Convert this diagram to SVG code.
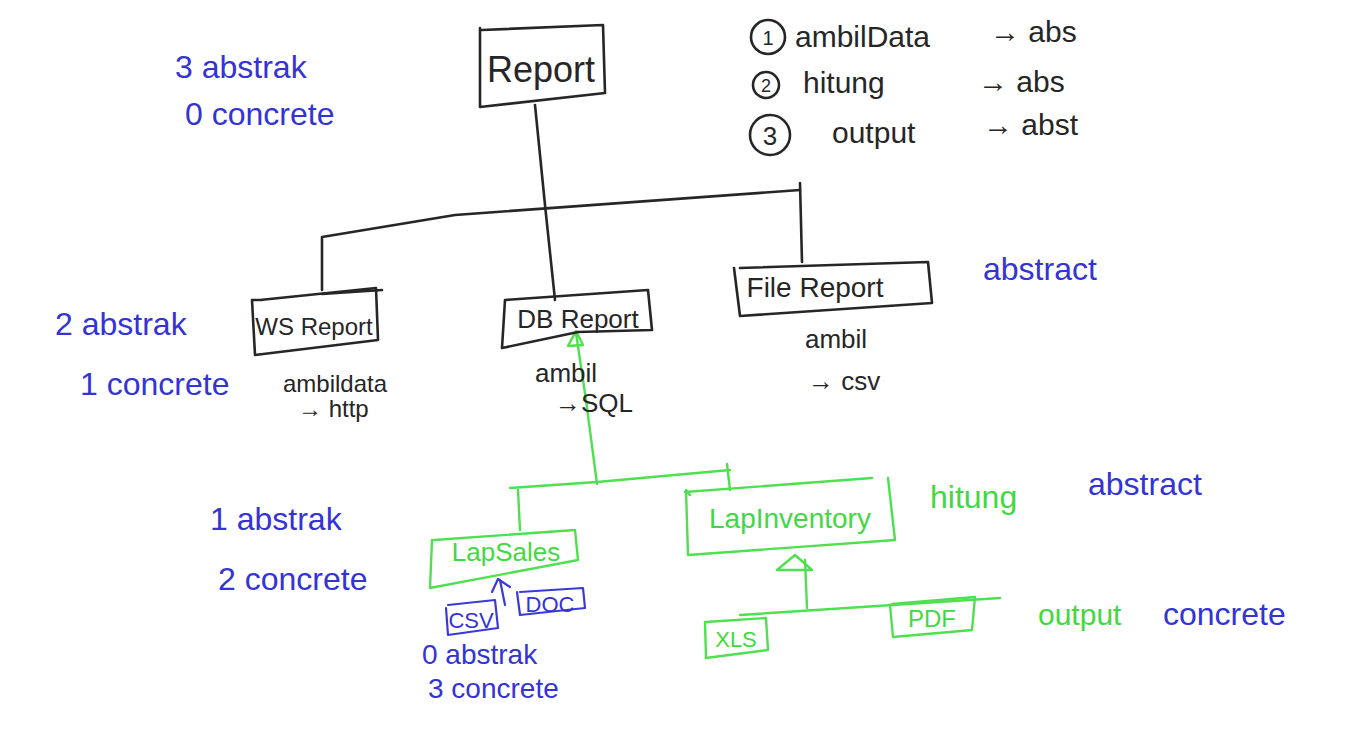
<svg xmlns="http://www.w3.org/2000/svg" width="1366" height="746" viewBox="0 0 1366 746">
<style>
.k{fill:none;stroke:#262626;stroke-width:2.6;stroke-linecap:round;stroke-linejoin:round}
.g{fill:none;stroke:#4fe04f;stroke-width:2.4;stroke-linecap:round;stroke-linejoin:round}
.b{fill:none;stroke:#3a3ad8;stroke-width:2.2;stroke-linecap:round;stroke-linejoin:round}
text{font-family:"Liberation Sans","DejaVu Sans",sans-serif}
.tk{fill:#262626}
.tg{fill:#42d842}
.tb{fill:#3333d6}
</style>
<rect width="1366" height="746" fill="#ffffff"/>
<g id="connectors">
<path class="k" d="M535 105 L545 205 L555 300"/>
<path class="k" d="M322 290 L322 237 L455 215 L800 190"/>
<path class="k" d="M800 183 L802 262"/>
<path class="g" d="M597 484 L586 400 L576 333"/>
<path class="g" d="M568 346 L576 331 L583 345 Z"/>
<path class="g" d="M510 488 L597 482 L730 470"/>
<path class="g" d="M727 464 L730 490"/>
<path class="g" d="M518 490 L520 530"/>
<path class="g" d="M685 492 L872 478"/>
<path class="g" d="M740 615 L1000 598"/>
<path class="g" d="M807 608 L805 560"/>
<path class="g" d="M777 570 L795 555 L812 570 Z"/>
<path class="b" d="M505 605 L500 580"/>
<path class="b" d="M492 592 L498 579 L510 587"/>
</g>
<g id="report">
<path class="k" d="M480 28 L480 107 L605 93 L603 25 L482 30"/>
<text x="541" y="82" font-size="36" text-anchor="middle" class="tk">Report</text>
</g>
<g id="legend">
<circle cx="768" cy="37" r="17" class="k"/>
<text x="768" y="45" font-size="20" text-anchor="middle" class="tk">1</text>
<text x="795" y="47" font-size="30" class="tk">ambilData</text>
<text x="990" y="42" font-size="30" class="tk">→ abs</text>
<circle cx="766" cy="85" r="13" class="k"/>
<text x="766" y="92" font-size="18" text-anchor="middle" class="tk">2</text>
<text x="803" y="93" font-size="30" class="tk">hitung</text>
<text x="978" y="92" font-size="30" class="tk">→ abs</text>
<circle cx="770" cy="135" r="20" class="k"/>
<text x="770" y="145" font-size="26" text-anchor="middle" class="tk">3</text>
<text x="832" y="143" font-size="30" class="tk">output</text>
<text x="983" y="135" font-size="30" class="tk">→ abst</text>
</g>
<g id="count-top">
<text x="175" y="78" font-size="32" class="tb">3 abstrak</text>
<text x="185" y="125" font-size="32" class="tb">0 concrete</text>
</g>
<g id="ws-report">
<path class="k" d="M262 300 L252 300 L255 355 L378 340 L376 288 L260 300"/>
<path class="k" d="M322 294 L382 290"/>
<text x="314" y="335" font-size="24" text-anchor="middle" class="tk">WS Report</text>
<text x="283" y="392" font-size="24" class="tk">ambildata</text>
<text x="298" y="417" font-size="24" class="tk">→ http</text>
</g>
<g id="db-report">
<path class="k" d="M505 300 L502 348 L578 332 L652 330 L648 290 L505 300"/>
<text x="578" y="328" font-size="26" text-anchor="middle" class="tk">DB Report</text>
<text x="535" y="382" font-size="26" class="tk">ambil</text>
<text x="555" y="412" font-size="26" class="tk">→SQL</text>
</g>
<g id="file-report">
<path class="k" d="M734 268 L740 316 L932 303 L928 262 L740 268"/>
<text x="815" y="297" font-size="28" text-anchor="middle" class="tk">File Report</text>
<text x="805" y="348" font-size="26" class="tk">ambil</text>
<text x="808" y="390" font-size="26" class="tk">→ csv</text>
</g>
<g id="note-abstract">
<text x="983" y="280" font-size="32" class="tb">abstract</text>
</g>
<g id="count-mid">
<text x="55" y="335" font-size="32" class="tb">2 abstrak</text>
<text x="80" y="395" font-size="32" class="tb">1 concrete</text>
</g>
<g id="lapsales">
<path class="g" d="M432 540 L430 588 L578 560 L575 530 L434 540"/>
<text x="506" y="561" font-size="26" text-anchor="middle" class="tg">LapSales</text>
</g>
<g id="lapinventory">
<path class="g" d="M690 495 L686 490 L688 555 L895 540 L888 478"/>
<text x="790" y="528" font-size="28" text-anchor="middle" class="tg">LapInventory</text>
</g>
<g id="note-hitung">
<text x="930" y="508" font-size="32" class="tg">hitung</text>
<text x="1088" y="495" font-size="32" class="tb">abstract</text>
</g>
<g id="count-low">
<text x="210" y="530" font-size="32" class="tb">1 abstrak</text>
<text x="218" y="590" font-size="32" class="tb">2 concrete</text>
</g>
<g id="csv">
<path class="b" d="M446 608 L448 635 L498 628 L495 600 L448 605"/>
<text x="471" y="628" font-size="22" text-anchor="middle" class="tb">CSV</text>
</g>
<g id="doc">
<path class="b" d="M517 592 L520 615 L585 608 L583 588 L520 592"/>
<text x="550" y="612" font-size="22" text-anchor="middle" class="tb">DOC</text>
</g>
<g id="count-bottom">
<text x="422" y="664" font-size="28" class="tb">0 abstrak</text>
<text x="428" y="698" font-size="28" class="tb">3 concrete</text>
</g>
<g id="xls">
<path class="g" d="M705 622 L706 658 L768 650 L766 618 L706 622"/>
<text x="736" y="647" font-size="22" text-anchor="middle" class="tg">XLS</text>
</g>
<g id="pdf">
<path class="g" d="M890 605 L893 637 L972 630 L975 597 L892 604"/>
<text x="932" y="627" font-size="24" text-anchor="middle" class="tg">PDF</text>
</g>
<g id="note-output">
<text x="1038" y="625" font-size="30" class="tg">output</text>
<text x="1163" y="625" font-size="32" class="tb">concrete</text>
</g>
</svg>
